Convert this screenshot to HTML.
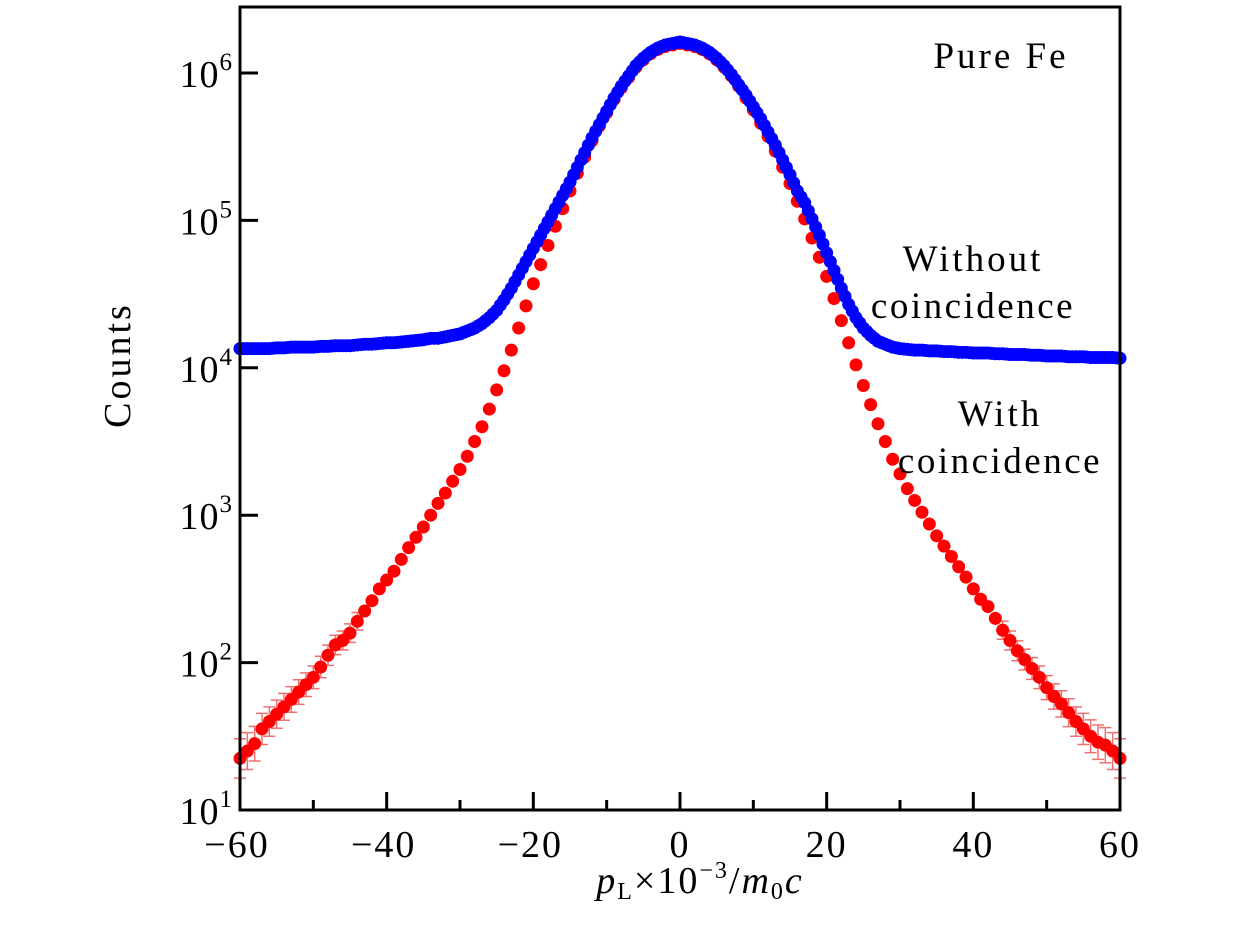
<!DOCTYPE html>
<html><head><meta charset="utf-8"><style>
html,body{margin:0;padding:0;background:#fff;}
svg{display:block;font-family:"Liberation Serif","DejaVu Serif",serif;}
</style></head><body>
<svg id="chart" width="1260" height="930" viewBox="0 0 1260 930" xmlns="http://www.w3.org/2000/svg">
<g id="marks"></g>
<rect x="240" y="7" width="880" height="803" fill="none" stroke="#000" stroke-width="3"/>
<g id="axes"></g>
<text x="1001" y="68" font-size="37" letter-spacing="3" text-anchor="middle">Pure Fe</text>
<text x="973" y="271" font-size="37" letter-spacing="3" text-anchor="middle">Without</text>
<text x="973" y="318" font-size="37" letter-spacing="2.5" text-anchor="middle">coincidence</text>
<text x="1000" y="426" font-size="37" letter-spacing="3" text-anchor="middle">With</text>
<text x="1000" y="473" font-size="37" letter-spacing="2.5" text-anchor="middle">coincidence</text>
<text transform="translate(130,365) rotate(-90)" font-size="38" letter-spacing="3" text-anchor="middle">Counts</text>
<text x="700" y="893" font-size="38" letter-spacing="2" text-anchor="middle"><tspan font-style="italic">p</tspan><tspan font-size="24" dy="6">L</tspan><tspan dy="-6">×10</tspan><tspan font-size="24" dy="-15">−3</tspan><tspan dy="15">/</tspan><tspan font-style="italic">m</tspan><tspan font-size="24" dy="6">0</tspan><tspan dy="-6" font-style="italic">c</tspan></text>
</svg>
<script>
const xTicks=[-60,-40,-20,0,20,40,60];
const xTickLabels=["−60","−40","−20","0","20","40","60"];
const yTicks=[1,2,3,4,5,6];
const xs=[];for(let i=-60;i<=60;i++)xs.push(i);
const redLog=[1.35,1.4,1.45,1.55,1.6,1.65,1.7,1.75,1.8,1.85,1.9,1.97,2.05,2.12,2.15,2.2,2.28,2.35,2.42,2.5,2.56,2.62,2.7,2.78,2.85,2.92,3.0,3.08,3.15,3.23,3.31,3.4,3.5,3.6,3.72,3.85,3.98,4.12,4.27,4.42,4.57,4.7,4.83,4.96,5.08,5.2,5.32,5.43,5.54,5.64,5.73,5.82,5.9,5.97,6.04,6.09,6.13,6.16,6.18,6.19,6.2,
6.19,6.18,6.16,6.13,6.09,6.04,5.98,5.91,5.83,5.75,5.66,5.57,5.47,5.36,5.25,5.13,5.01,4.88,4.75,4.62,4.47,4.32,4.17,4.02,3.88,3.75,3.62,3.5,3.38,3.28,3.18,3.1,3.02,2.94,2.86,2.79,2.72,2.65,2.58,2.5,2.43,2.38,2.3,2.22,2.15,2.08,2.02,1.96,1.9,1.83,1.77,1.72,1.66,1.6,1.55,1.5,1.46,1.44,1.4,1.35];
const blueLog=[4.13,4.13,4.13,4.13,4.13,4.135,4.135,4.14,4.14,4.14,4.14,4.145,4.145,4.15,4.15,4.15,4.155,4.16,4.16,4.165,4.17,4.17,4.175,4.18,4.185,
4.19,4.2,4.2,4.21,4.22,4.23,4.25,4.27,4.3,4.34,4.39,4.46,4.54,4.63,4.72,4.81,4.9,4.99,5.08,5.17,5.26,5.36,5.46,5.56,5.65,5.74,5.83,5.91,5.98,6.05,6.1,6.14,6.17,6.19,6.2,6.21,
6.2,6.19,6.17,6.14,6.1,6.05,5.99,5.92,5.85,5.77,5.69,5.6,5.51,5.41,5.31,5.2,5.12,5.01,4.9,4.78,4.66,4.54,4.43,4.34,4.27,4.22,4.18,4.16,4.14,4.13,
4.125,4.12,4.12,4.115,4.115,4.11,4.11,4.105,4.105,4.1,4.1,4.1,4.095,4.095,4.09,4.09,4.09,4.085,4.085,4.08,4.08,4.08,4.075,4.075,4.075,4.07,4.07,4.07,4.07,4.065];
const NS="http://www.w3.org/2000/svg";
const X=v=>240+(v+60)*880/120;
const Y=l=>810-(l-1)*147.4;
const marks=document.getElementById('marks'),axes=document.getElementById('axes');
function mk(tag,at,parent){const e=document.createElementNS(NS,tag);for(const k in at)e.setAttribute(k,at[k]);parent.appendChild(e);return e;}
xs.forEach((x,i)=>{const l=redLog[i];if(l<2.3){const d=0.1/(l-0.6);const y1=Y(l+d),y2=Y(l-d);
const eb=mk('path',{d:`M${X(x)},${y1}V${y2}M${X(x)-6},${y1}h12M${X(x)-6},${y2}h12`,stroke:'#f07070','stroke-width':1.5,fill:'none'},marks);

}});
xs.forEach((x,i)=>{const c=mk('circle',{cx:X(x),cy:Y(redLog[i]),r:6.5,fill:'#ff0000'},marks);

});
xs.forEach((x,i)=>{const c=mk('circle',{cx:X(x),cy:Y(blueLog[i]),r:6.5,fill:'#0000ff'},marks);


if(i<xs.length-1){const c2=mk('circle',{cx:X(x+0.5),cy:Y((blueLog[i]+blueLog[i+1])/2),r:6.5,fill:'#0000ff'},marks);

}});
for(let v=-60;v<=60;v+=10){const major=v%20===0;const t=mk('line',{x1:X(v),x2:X(v),y1:810,y2:810-(major?18:10),stroke:'#000','stroke-width':3},axes);

}
xTicks.forEach((v,i)=>{const t=mk('text',{x:X(v)+(v<0?-3:0),y:857,'font-size':38,'letter-spacing':2,'text-anchor':'middle'},axes);t.textContent=xTickLabels[i];

});
yTicks.forEach(p=>{const t=mk('line',{x1:240,x2:258,y1:Y(p),y2:Y(p),stroke:'#000','stroke-width':3},axes);


const tx=mk('text',{x:233,y:Y(p)+14,'font-size':38,'letter-spacing':1,'text-anchor':'end'},axes);
tx.innerHTML='10<tspan font-size="25" dy="-17">'+p+'</tspan>';

});
</script>
</body></html>
